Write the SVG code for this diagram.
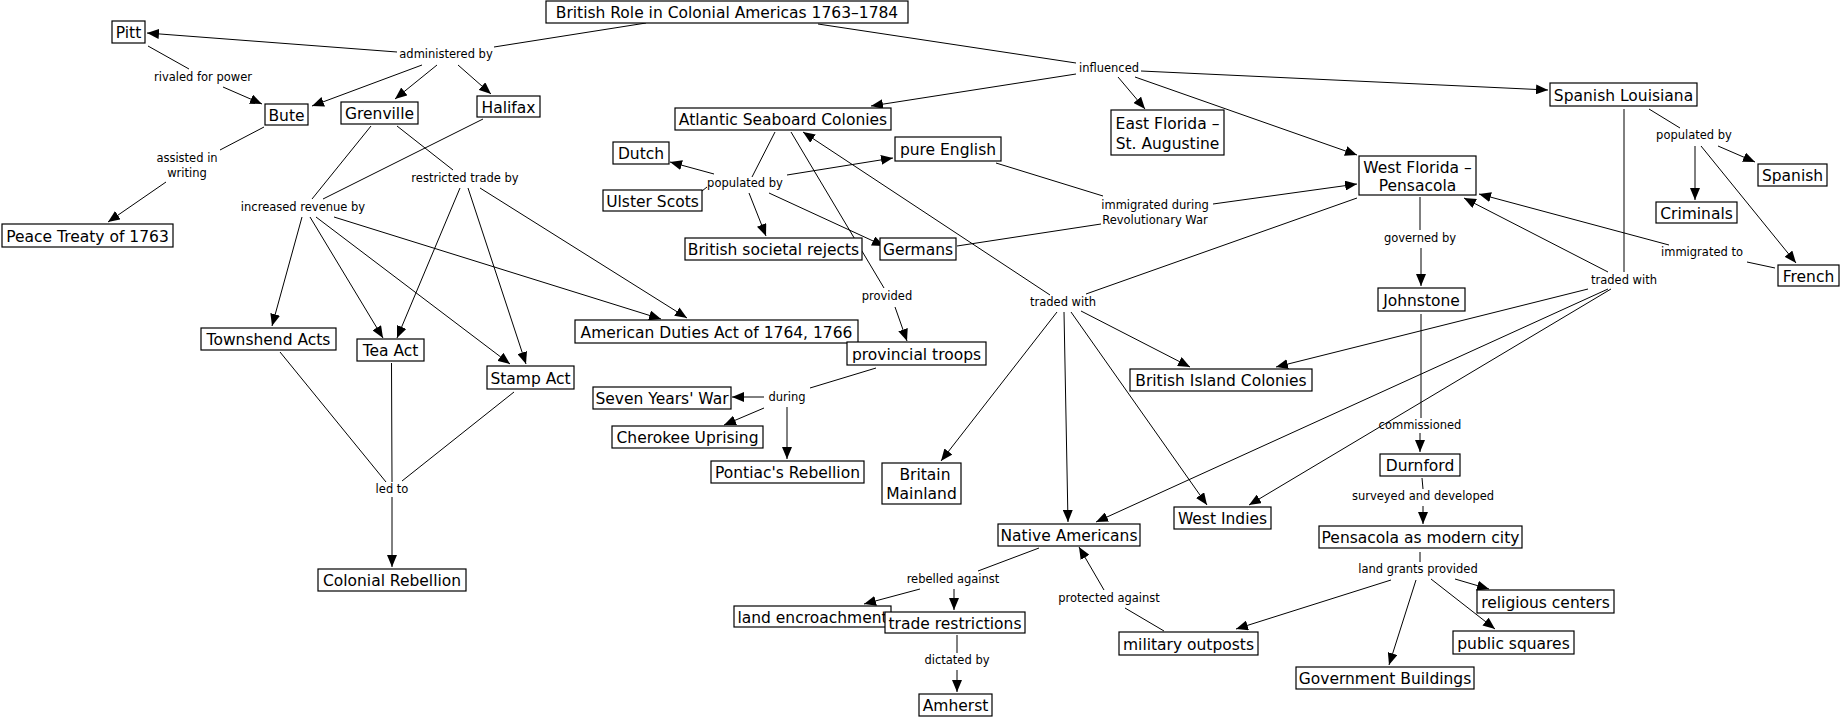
<svg xmlns="http://www.w3.org/2000/svg" width="1840" height="718" viewBox="0 0 1840 718">
<style>
.n rect{fill:#fff;stroke:#000;stroke-width:1.2}
.n text{font-family:"DejaVu Sans",Verdana,sans-serif;font-size:15.5px;fill:#000;text-anchor:middle}
.l{font-family:"DejaVu Sans",Verdana,sans-serif;font-size:11.5px;fill:#000;text-anchor:middle}
#edges line{stroke:#000;stroke-width:1;fill:none}
#edges line.a{marker-end:url(#arr)}
</style>
<defs>
<marker id="arr" markerUnits="userSpaceOnUse" markerWidth="13" markerHeight="10" refX="12" refY="5" orient="auto">
<path d="M0,0 L12,5 L0,10 z" fill="#000"/>
</marker>
</defs>
<rect width="1840" height="718" fill="#fff"/>
<g id="edges">
<line x1="646" y1="23" x2="494" y2="47"/>
<line class="a" x1="397" y1="52" x2="147" y2="33"/>
<line class="a" x1="422" y1="65" x2="312" y2="106"/>
<line class="a" x1="437" y1="65" x2="395" y2="99"/>
<line class="a" x1="458" y1="65" x2="491" y2="94"/>
<line x1="148" y1="46" x2="189" y2="69"/>
<line class="a" x1="223" y1="87" x2="262" y2="104"/>
<line x1="264" y1="127" x2="220" y2="150"/>
<line class="a" x1="166" y1="182" x2="108" y2="222"/>
<line x1="371" y1="126" x2="312" y2="199"/>
<line x1="483" y1="119" x2="323" y2="199"/>
<line x1="397" y1="126" x2="453" y2="170"/>
<line class="a" x1="302" y1="217" x2="272" y2="326"/>
<line class="a" x1="310" y1="217" x2="383" y2="338"/>
<line class="a" x1="316" y1="217" x2="510" y2="364"/>
<line class="a" x1="334" y1="217" x2="661" y2="319"/>
<line class="a" x1="460" y1="188" x2="397" y2="338"/>
<line class="a" x1="468" y1="188" x2="526" y2="364"/>
<line class="a" x1="480" y1="188" x2="687" y2="318"/>
<line x1="280" y1="352" x2="386" y2="482"/>
<line x1="391.5" y1="363" x2="392" y2="482"/>
<line x1="514" y1="392" x2="402" y2="481"/>
<line class="a" x1="392" y1="497" x2="392" y2="567"/>
<line x1="818" y1="24" x2="1076" y2="63"/>
<line class="a" x1="1076" y1="74" x2="871" y2="106"/>
<line class="a" x1="1118" y1="77" x2="1145" y2="109"/>
<line class="a" x1="1135" y1="77" x2="1357" y2="155"/>
<line class="a" x1="1141" y1="71" x2="1548" y2="90"/>
<line x1="775" y1="132" x2="752" y2="177"/>
<line class="a" x1="714" y1="174" x2="670" y2="162"/>
<line x1="707" y1="187" x2="702" y2="191"/>
<line class="a" x1="787" y1="175" x2="893" y2="158"/>
<line class="a" x1="749" y1="193" x2="766" y2="236"/>
<line class="a" x1="769" y1="193" x2="884" y2="246"/>
<line x1="791" y1="132" x2="884" y2="288"/>
<line class="a" x1="895" y1="307" x2="907" y2="341"/>
<line x1="996" y1="163" x2="1103" y2="196"/>
<line x1="957" y1="246" x2="1101" y2="224"/>
<line class="a" x1="1213" y1="204" x2="1357" y2="184"/>
<line x1="1357" y1="198" x2="1086" y2="294"/>
<line class="a" x1="1050" y1="295" x2="803" y2="132"/>
<line class="a" x1="1057" y1="312" x2="941" y2="461"/>
<line class="a" x1="1064" y1="312" x2="1068" y2="522"/>
<line class="a" x1="1081" y1="311" x2="1190" y2="367"/>
<line class="a" x1="1071" y1="312" x2="1207" y2="505"/>
<line x1="1420" y1="197" x2="1420" y2="230"/>
<line class="a" x1="1421" y1="248" x2="1421" y2="286"/>
<line x1="1649" y1="109" x2="1680" y2="128"/>
<line class="a" x1="1718" y1="146" x2="1755" y2="162"/>
<line class="a" x1="1695" y1="146" x2="1695" y2="200"/>
<line class="a" x1="1701" y1="146" x2="1796" y2="263"/>
<line x1="1775" y1="268" x2="1747" y2="262"/>
<line class="a" x1="1669" y1="245" x2="1479" y2="194"/>
<line x1="1624" y1="109" x2="1624" y2="272"/>
<line class="a" x1="1608" y1="272" x2="1464" y2="198"/>
<line class="a" x1="1588" y1="289" x2="1276" y2="367"/>
<line class="a" x1="1608" y1="289" x2="1096" y2="522"/>
<line class="a" x1="1611" y1="289" x2="1249" y2="505"/>
<line x1="1421" y1="314" x2="1421" y2="418"/>
<line class="a" x1="1420" y1="433" x2="1420" y2="452"/>
<line x1="1422" y1="478" x2="1423" y2="489"/>
<line class="a" x1="1423" y1="506" x2="1423" y2="524"/>
<line x1="1420" y1="552" x2="1420" y2="562"/>
<line class="a" x1="1391" y1="580" x2="1236" y2="629"/>
<line class="a" x1="1416" y1="580" x2="1389" y2="665"/>
<line class="a" x1="1431" y1="579" x2="1495" y2="629"/>
<line class="a" x1="1455" y1="579" x2="1489" y2="589"/>
<line x1="1039" y1="548" x2="978" y2="571"/>
<line class="a" x1="920" y1="589" x2="864" y2="604"/>
<line class="a" x1="954" y1="589" x2="954" y2="610"/>
<line x1="957" y1="635" x2="957" y2="653"/>
<line class="a" x1="957" y1="670" x2="957" y2="692"/>
<line x1="1164" y1="631" x2="1125" y2="608"/>
<line class="a" x1="1104" y1="590" x2="1079" y2="547"/>
<line x1="876" y1="368" x2="810" y2="388"/>
<line class="a" x1="764" y1="397" x2="732" y2="397"/>
<line class="a" x1="764" y1="408" x2="724" y2="425"/>
<line class="a" x1="787" y1="407" x2="787" y2="459"/>
</g>
<g id="labels">
<text class="l" x="446" y="58">administered by</text>
<text class="l" x="203" y="81">rivaled for power</text>
<text class="l" x="187" y="162">assisted in</text>
<text class="l" x="187" y="177">writing</text>
<text class="l" x="303" y="211">increased revenue by</text>
<text class="l" x="465" y="182">restricted trade by</text>
<text class="l" x="392" y="493">led to</text>
<text class="l" x="1109" y="72">influenced</text>
<text class="l" x="745" y="187">populated by</text>
<text class="l" x="1155" y="209">immigrated during</text>
<text class="l" x="1155" y="224">Revolutionary War</text>
<text class="l" x="887" y="300">provided</text>
<text class="l" x="787" y="401">during</text>
<text class="l" x="1063" y="306">traded with</text>
<text class="l" x="1420" y="242">governed by</text>
<text class="l" x="1694" y="139">populated by</text>
<text class="l" x="1702" y="256">immigrated to</text>
<text class="l" x="1624" y="284">traded with</text>
<text class="l" x="1420" y="429">commissioned</text>
<text class="l" x="1423" y="500">surveyed and developed</text>
<text class="l" x="1418" y="573">land grants provided</text>
<text class="l" x="953" y="583">rebelled against</text>
<text class="l" x="957" y="664">dictated by</text>
<text class="l" x="1109" y="602">protected against</text>
</g>
<g id="n-title" class="n"><rect x="546" y="1" width="362" height="22"/><text x="727" y="17.5">British Role in Colonial Americas 1763–1784</text></g>
<g id="n-pitt" class="n"><rect x="112" y="21" width="33" height="22"/><text x="128.5" y="37.5">Pitt</text></g>
<g id="n-bute" class="n"><rect x="265" y="104" width="43" height="21"/><text x="286.5" y="120.5">Bute</text></g>
<g id="n-grenville" class="n"><rect x="341" y="102" width="77" height="22"/><text x="379.5" y="118.5">Grenville</text></g>
<g id="n-halifax" class="n"><rect x="477" y="96" width="63" height="21"/><text x="508.5" y="112.5">Halifax</text></g>
<g id="n-peace" class="n"><rect x="2" y="224" width="171" height="23"/><text x="87.5" y="241.5">Peace Treaty of 1763</text></g>
<g id="n-townshend" class="n"><rect x="201" y="328" width="135" height="22"/><text x="268.5" y="344.5">Townshend Acts</text></g>
<g id="n-tea" class="n"><rect x="357" y="339" width="67" height="22"/><text x="390.5" y="355.5">Tea Act</text></g>
<g id="n-stamp" class="n"><rect x="487" y="366" width="87" height="23"/><text x="530.5" y="383.5">Stamp Act</text></g>
<g id="n-colonial" class="n"><rect x="318" y="569" width="148" height="22"/><text x="392" y="585.5">Colonial Rebellion</text></g>
<g id="n-atlantic" class="n"><rect x="675" y="108" width="216" height="22"/><text x="783" y="124.5">Atlantic Seaboard Colonies</text></g>
<g id="n-dutch" class="n"><rect x="613" y="142" width="56" height="22"/><text x="641" y="158.5">Dutch</text></g>
<g id="n-ulster" class="n"><rect x="603" y="190" width="99" height="21"/><text x="652.5" y="206.5">Ulster Scots</text></g>
<g id="n-english" class="n"><rect x="895" y="137" width="106" height="24"/><text x="948" y="154.5">pure English</text></g>
<g id="n-rejects" class="n"><rect x="685" y="238" width="177" height="22"/><text x="773.5" y="254.5">British societal rejects</text></g>
<g id="n-germans" class="n"><rect x="880" y="238" width="76" height="22"/><text x="918" y="254.5">Germans</text></g>
<g id="n-duties" class="n"><rect x="575" y="320" width="283" height="23"/><text x="716.5" y="337.5">American Duties Act of 1764, 1766</text></g>
<g id="n-troops" class="n"><rect x="847" y="342" width="139" height="23"/><text x="916.5" y="359.5">provincial troops</text></g>
<g id="n-seven" class="n"><rect x="593" y="387" width="138" height="22"/><text x="662" y="403.5">Seven Years' War</text></g>
<g id="n-cherokee" class="n"><rect x="612" y="426" width="151" height="22"/><text x="687.5" y="442.5">Cherokee Uprising</text></g>
<g id="n-pontiac" class="n"><rect x="711" y="461" width="153" height="22"/><text x="787.5" y="477.5">Pontiac's Rebellion</text></g>
<g id="n-mainland" class="n"><rect x="882" y="463" width="79" height="41"/><text x="925" y="479.5">Britain</text><text x="921.5" y="498.5">Mainland</text></g>
<g id="n-eastfl" class="n"><rect x="1111" y="110" width="113" height="45"/><text x="1167.5" y="128.5">East Florida –</text><text x="1167.5" y="148.5">St. Augustine</text></g>
<g id="n-westfl" class="n"><rect x="1359" y="156" width="117" height="39"/><text x="1417.5" y="172.5">West Florida –</text><text x="1417.5" y="190.5">Pensacola</text></g>
<g id="n-spanla" class="n"><rect x="1550" y="83" width="147" height="23"/><text x="1623.5" y="100.5">Spanish Louisiana</text></g>
<g id="n-spanish" class="n"><rect x="1758" y="164" width="69" height="22"/><text x="1792.5" y="180.5">Spanish</text></g>
<g id="n-criminals" class="n"><rect x="1656" y="202" width="81" height="21"/><text x="1696.5" y="218.5">Criminals</text></g>
<g id="n-french" class="n"><rect x="1778" y="265" width="61" height="21"/><text x="1808.5" y="281.5">French</text></g>
<g id="n-johnstone" class="n"><rect x="1378" y="288" width="87" height="23"/><text x="1421.5" y="305.5">Johnstone</text></g>
<g id="n-island" class="n"><rect x="1130" y="369" width="182" height="22"/><text x="1221" y="385.5">British Island Colonies</text></g>
<g id="n-durnford" class="n"><rect x="1380" y="454" width="80" height="22"/><text x="1420" y="470.5">Durnford</text></g>
<g id="n-westindies" class="n"><rect x="1174" y="507" width="97" height="22"/><text x="1222.5" y="523.5">West Indies</text></g>
<g id="n-modern" class="n"><rect x="1319" y="526" width="203" height="22"/><text x="1420.5" y="542.5">Pensacola as modern city</text></g>
<g id="n-religious" class="n"><rect x="1477" y="590" width="137" height="23"/><text x="1545.5" y="607.5">religious centers</text></g>
<g id="n-squares" class="n"><rect x="1453" y="631" width="121" height="23"/><text x="1513.5" y="648.5">public squares</text></g>
<g id="n-govt" class="n"><rect x="1296" y="667" width="178" height="22"/><text x="1385" y="683.5">Government Buildings</text></g>
<g id="n-outposts" class="n"><rect x="1119" y="632" width="139" height="23"/><text x="1188.5" y="649.5">military outposts</text></g>
<g id="n-native" class="n"><rect x="998" y="524" width="142" height="22"/><text x="1069" y="540.5">Native Americans</text></g>
<g id="n-land" class="n"><rect x="734" y="606" width="157" height="21"/><text x="812.5" y="622.5">land encroachment</text></g>
<g id="n-trade" class="n"><rect x="885" y="612" width="140" height="21"/><text x="955" y="628.5">trade restrictions</text></g>
<g id="n-amherst" class="n"><rect x="919" y="694" width="73" height="22"/><text x="955.5" y="710.5">Amherst</text></g>
</svg>
